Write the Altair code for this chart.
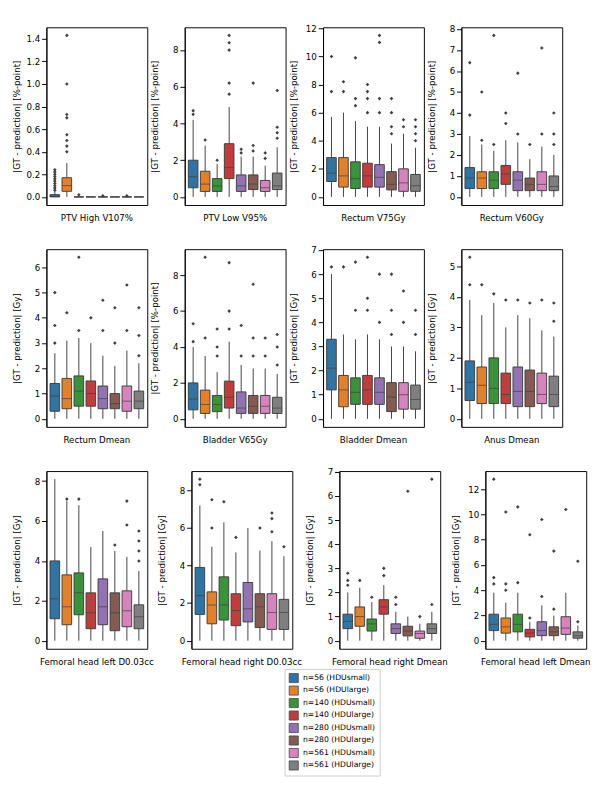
import pandas as pd
import altair as alt

groups = ["n=56 (HDUsmall)", "n=56 (HDUlarge)", "n=140 (HDUsmall)", "n=140 (HDUlarge)",
          "n=280 (HDUsmall)", "n=280 (HDUlarge)", "n=561 (HDUsmall)", "n=561 (HDUlarge)"]
colors = ["#3274a1", "#e1812c", "#3a923a", "#c03d3e", "#9372b2", "#845b53", "#d684bd", "#7f7f7f"]

panels = ["PTV High V107%", "PTV Low V95%", "Rectum V75Gy", "Rectum V60Gy",
          "Rectum Dmean", "Bladder V65Gy", "Bladder Dmean", "Anus Dmean",
          "Femoral head left D0.03cc", "Femoral head right D0.03cc",
          "Femoral head right Dmean", "Femoral head left Dmean"]
units = ["%-point"] * 4 + ["Gy", "%-point"] + ["Gy"] * 6

# per panel, per group: (q1, median, q3, upper whisker)
q1 = [
    [0, .05, 0, 0, 0, 0, 0, 0],
    [.5, .3, .3, 1.0, .3, .4, .3, .4],
    [1.1, .7, .6, .7, .7, .5, .4, .4],
    [.4, .4, .4, .6, .3, .3, .3, .3],
    [.3, .4, .5, .5, .4, .4, .3, .4],
    [.5, .3, .4, .6, .3, .3, .3, .3],
    [1.2, .5, .6, .6, .6, .3, .4, .4],
    [.6, .5, .5, .5, .4, .4, .5, .4],
    [1.1, .8, 1.3, .6, .8, .5, .7, .6],
    [1.4, .9, 1.1, .8, 1.0, .7, .6, .6],
    [.5, .6, .4, 1.1, .3, .2, .1, .3],
    [.8, .6, .7, .3, .4, .4, .5, .2],
]
med = [
    [.005, .1, 0, 0, 0, 0, 0, 0],
    [1.1, .7, .6, 1.6, .6, .7, .5, .6],
    [1.7, 1.5, 1.3, 1.5, 1.4, .9, 1.0, .8],
    [.9, .9, .8, 1.1, .8, .6, .6, .5],
    [.9, .8, 1.1, 1.0, .8, .6, .7, .7],
    [1.1, .8, .8, 1.2, .6, .7, .7, .6],
    [2.1, 1.2, 1.1, 1.2, 1.1, .9, 1.0, .8],
    [1.2, 1.1, 1.0, .8, .9, .9, .8, .8],
    [2.1, 1.7, 2.4, 1.4, 1.7, 1.4, 1.5, 1.2],
    [2.4, 1.9, 1.9, 1.6, 1.7, 1.8, 1.5, 1.5],
    [.8, 1.0, .7, 1.4, .5, .4, .3, .5],
    [1.3, 1.1, 1.3, .6, .8, .7, 1.0, .4],
]
q3 = [
    [.02, .17, 0, 0, 0, 0, 0, 0],
    [2.0, 1.4, 1.0, 2.9, 1.2, 1.2, .9, 1.3],
    [2.8, 2.8, 2.5, 2.4, 2.3, 1.8, 2.0, 1.6],
    [1.4, 1.2, 1.2, 1.5, 1.2, .9, 1.2, 1.0],
    [1.4, 1.6, 1.7, 1.5, 1.3, 1.0, 1.3, 1.1],
    [2.0, 1.6, 1.3, 2.1, 1.5, 1.3, 1.3, 1.2],
    [3.3, 1.8, 1.7, 1.8, 1.7, 1.5, 1.5, 1.4],
    [1.9, 1.7, 2.0, 1.5, 1.7, 1.6, 1.5, 1.4],
    [4.0, 3.3, 3.4, 2.4, 3.1, 2.4, 2.5, 1.8],
    [3.9, 2.6, 3.4, 2.5, 3.1, 2.5, 2.5, 2.2],
    [1.1, 1.4, .9, 1.7, .7, .6, .4, .7],
    [2.1, 1.8, 2.1, .9, 1.5, 1.1, 1.9, .7],
]
hi = [
    [.05, .3, 0, 0, 0, 0, 0, 0],
    [4.2, 2.8, 1.8, 4.9, 2.2, 2.2, 1.7, 2.7],
    [5.7, 6.0, 5.4, 5.0, 5.0, 3.8, 4.5, 3.5],
    [2.9, 2.5, 2.2, 2.7, 2.6, 1.8, 2.4, 2.0],
    [2.6, 3.1, 3.2, 3.0, 2.5, 2.1, 2.7, 2.2],
    [4.0, 3.5, 2.6, 4.3, 3.0, 2.8, 2.8, 2.5],
    [6.0, 3.5, 3.3, 3.5, 3.3, 3.0, 3.0, 2.8],
    [3.9, 3.4, 3.8, 3.0, 3.4, 3.3, 2.9, 2.7],
    [8.1, 7.0, 6.8, 4.7, 5.5, 4.5, 4.2, 3.5],
    [7.2, 5.0, 6.3, 4.7, 6.0, 4.8, 5.3, 4.5],
    [2.0, 2.2, 1.6, 2.3, 1.2, 1.0, .7, 1.2],
    [3.8, 3.0, 3.8, 1.5, 2.8, 2.0, 3.8, 1.2],
]
outliers = [
    [[.06, .08, .1, .12, .14, .16, .18, .2, .22, .24], [.4, .45, .5, .55, .7, .73, 1.0, 1.43], [.02], [], [.01], [], [.01], []],
    [[4.5, 4.7], [3.1], [2.0], [5.6, 6.2, 8.0, 8.4, 8.8], [2.4, 2.6], [2.5, 2.8, 6.2], [2.1, 2.4], [3.2, 3.5, 3.8, 5.8]],
    [[7.5, 10.0], [7.5, 8.2], [6.5, 7.0, 9.9], [6.0, 7.0, 7.5, 8.0], [6.0, 7.0, 11.0, 11.5], [4.5, 5.0, 6.0, 7.0], [5.0, 5.5], [4.0, 4.5, 5.0, 5.5]],
    [[3.9, 6.4], [2.7, 5.0], [2.5, 7.7], [3.5, 4.0], [3.0, 5.9], [2.5], [3.0, 7.1], [2.5, 3.0, 4.0]],
    [[3.0, 3.7, 5.0], [4.2], [3.5, 6.4], [4.0], [3.5, 4.7], [3.0, 4.4], [3.5, 5.3], [2.5, 3.3, 4.4]],
    [[4.3, 5.3], [4.5, 9.0], [3.5, 4.0, 5.0], [5.0, 6.0, 8.7], [3.5, 5.2], [3.5, 4.5, 7.5], [3.5, 4.5], [3.0, 4.0, 4.7]],
    [[6.3], [6.3], [4.5, 6.5], [4.5, 5.0, 6.7], [4.0, 6.0], [3.5, 4.5, 6.0], [4.0, 5.3], [3.5, 4.5]],
    [[4.4, 5.3], [4.4], [4.1], [3.9], [3.9], [3.8], [3.9], [3.2, 3.8]],
    [[], [7.1], [7.1], [], [], [4.8], [5.8, 7.0], [4.0, 4.5, 5.0, 5.5]],
    [[8.3, 8.6], [6.0, 7.5], [7.4], [5.5], [], [6.0], [5.8, 6.5, 6.8], [5.0]],
    [[2.3, 2.5, 2.8], [2.5], [1.8], [2.7, 3.0], [1.5, 1.8], [6.2], [1.0], [1.5, 6.7]],
    [[4.5, 5.0, 12.8], [4.0, 4.5, 10.2], [4.6, 10.6], [1.8, 8.4], [3.5, 9.6], [2.5, 7.1], [10.4], [1.5, 6.3]],
]

box_rows, out_rows = [], []
for p, name in enumerate(panels):
    for g, grp in enumerate(groups):
        box_rows.append(dict(panel=name, group=grp, q1=q1[p][g], med=med[p][g],
                             q3=q3[p][g], lo=0.0, hi=hi[p][g]))
        for v in outliers[p][g]:
            out_rows.append(dict(panel=name, group=grp, value=v))
boxes = pd.DataFrame(box_rows)
outs = pd.DataFrame(out_rows)

color = alt.Color("group:N", scale=alt.Scale(domain=groups, range=colors),
                  legend=alt.Legend(title=None, orient="none", legendX=248, legendY=668,
                                    direction="vertical", symbolType="square", symbolSize=90,
                                    labelFontSize=8, strokeColor="#ccc", padding=4, rowPadding=0,
                                    symbolStrokeColor="#444", symbolStrokeWidth=0.8))

LINE = "#3f3f3f"


def panel(i):
    name = panels[i]
    top = max(max(hi[i]), max(v for g in outliers[i] for v in g))
    dom = [-0.05 * top, 1.05 * top]
    x = alt.X("group:N", sort=groups, axis=None, scale=alt.Scale(paddingInner=0.2, paddingOuter=0.3))
    base = alt.Chart(boxes).transform_filter(alt.datum.panel == name)
    ytitle = "|GT - prediction| [" + units[i] + "]"
    y = alt.Y("lo:Q", title=ytitle, scale=alt.Scale(domain=dom, nice=False, zero=False),
              axis=alt.Axis(grid=False, tickCount=6, labelFontSize=9,
                            titleFontSize=9, titleFontWeight="normal",
                            minExtent=22, maxExtent=22))
    whisk = base.mark_rule(color=LINE, strokeWidth=1).encode(x=x, y=y, y2="hi:Q")
    box = base.mark_bar(stroke=LINE, strokeWidth=1).encode(x=x, y="q1:Q", y2="q3:Q", color=color)
    mid = base.mark_tick(color=LINE, thickness=1).encode(x=x, y="med:Q")
    pts = alt.Chart(outs).transform_filter(alt.datum.panel == name).mark_point(
        shape="diamond", filled=True, color=LINE, size=14, opacity=1).encode(
        x=alt.X("group:N", sort=groups, axis=None), y="value:Q")
    return alt.layer(whisk, box, mid, pts).properties(
        width=105, height=185,
        title=alt.TitleParams(name, orient="bottom", fontSize=9, fontWeight="normal", offset=10))


rows = []
for r in range(3):
    rows.append(alt.hconcat(*[panel(r * 4 + c) for c in range(4)], spacing=2))

chart = alt.vconcat(*rows, spacing=22).configure(
    font="DejaVu Sans", padding={"left": 4, "top": 0, "right": 0, "bottom": 0}
).configure_view(stroke="black").configure_axis(
    domainColor="black", tickColor="black", labelColor="black", titleColor="black")

chart.save("out.html", embed_options={"renderer": "svg", "actions": False})
